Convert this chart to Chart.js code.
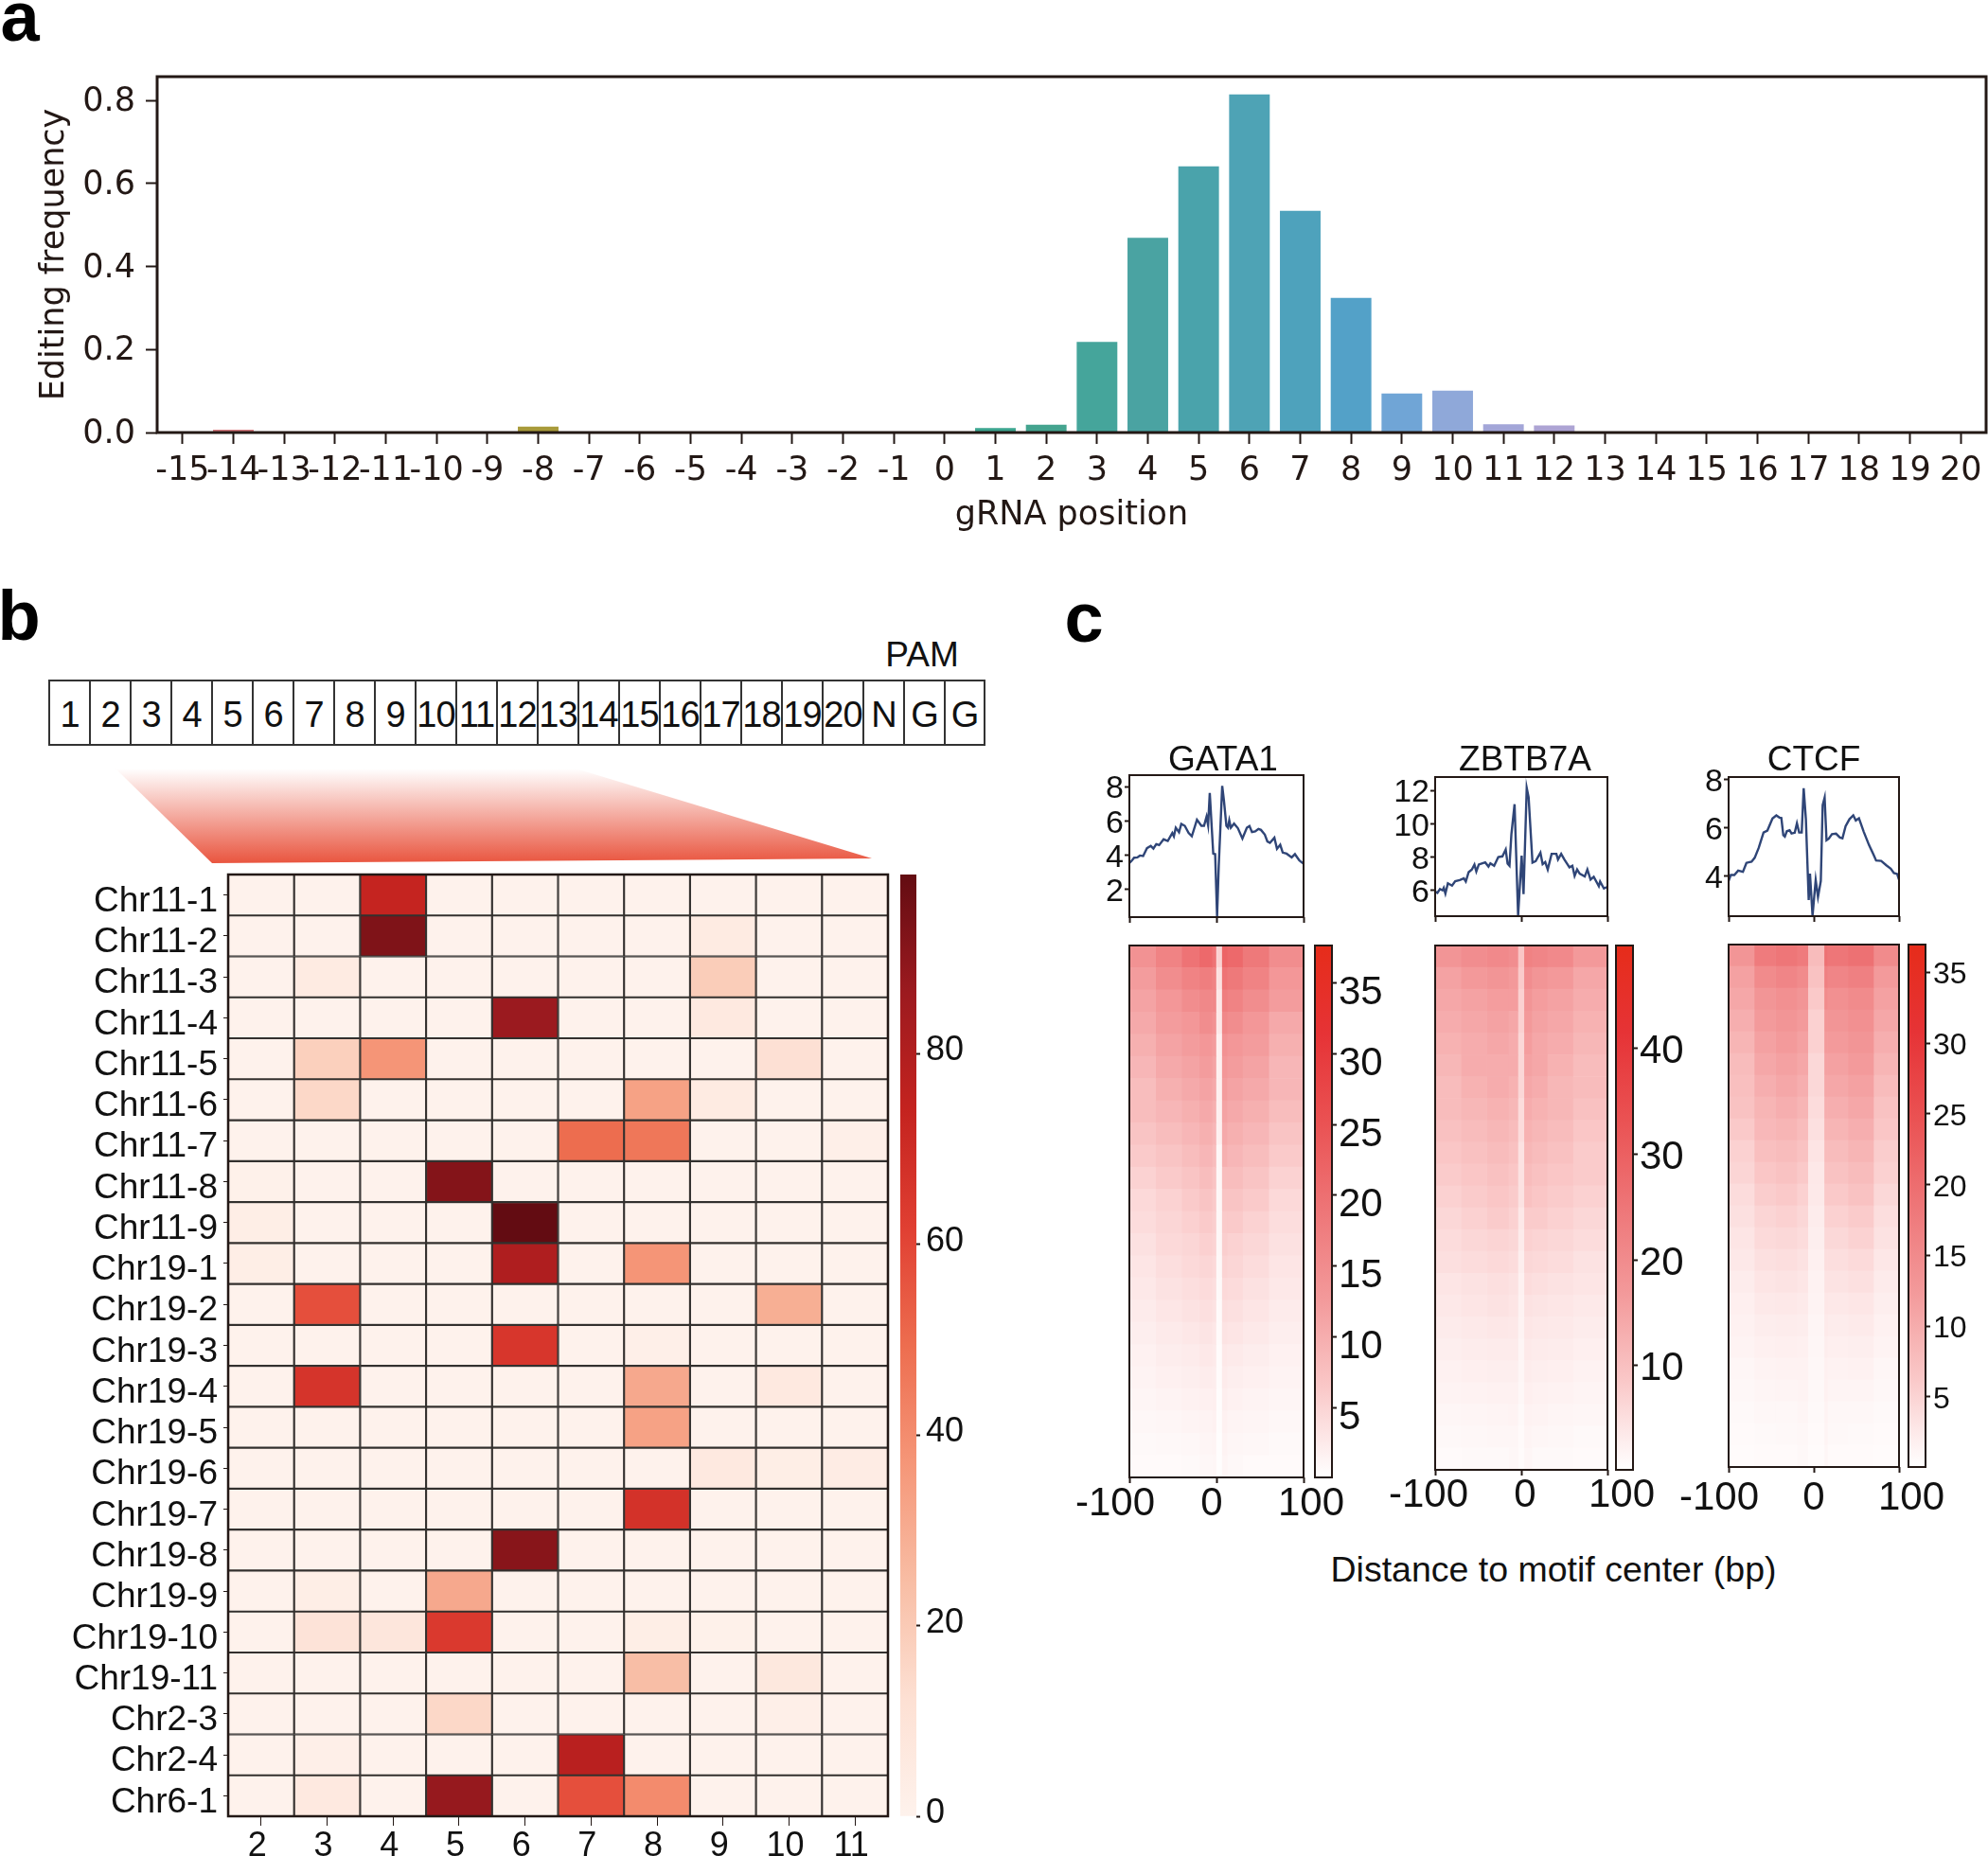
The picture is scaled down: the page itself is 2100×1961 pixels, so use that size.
<!DOCTYPE html>
<html>
<head>
<meta charset="utf-8">
<title>Editing frequency and motif profiles</title>
<script src="https://cdn.jsdelivr.net/npm/chart.js@4"></script>
<style>
body { margin: 0; background: #fff; }
#page { position: relative; width: 2100px; height: 1961px; overflow: hidden; }
#page canvas { position: absolute; }
.txt { position: absolute; transform: translate(-50%, -50%); font-family: "Liberation Sans"; color: #111; white-space: nowrap; line-height: 1; }
.letter { font-weight: bold; font-size: 74px; color: #000; }
#seq { position: absolute; left: 51px; top: 718px; display: flex; height: 70px; }
#seq div { box-sizing: border-box; width: 43px; height: 70px; margin-right: 0; border: 1px solid #333; border-width: 2px 1px; font: 38px/70px "Liberation Sans"; color: #111; text-align: center; letter-spacing: -1px; }
#seq div:first-child { width: 44px; border-left-width: 2px; }
#seq div:last-child { border-right-width: 2px; }
#fan { position: absolute; left: 122px; top: 812px; width: 799px; height: 100px;
  background: linear-gradient(#ffffff, #e9553f);
  clip-path: polygon(0 0, 486px 0, 799px 95px, 102px 100px); }
</style>
</head>
<body>
<div id="page">
  <div id="seq"></div>
  <div id="fan"></div>
</div>
<script>
// panel a
var positions = ['-15','-14','-13','-12','-11','-10','-9','-8','-7','-6','-5','-4','-3','-2','-1','0','1','2','3','4','5','6','7','8','9','10','11','12','13','14','15','16','17','18','19','20'];
var editFreq = [0,0.007,0,0,0,0,0,0.014,0,0,0,0,0,0,0,0,0.011,0.019,0.218,0.469,0.641,0.814,0.534,0.324,0.094,0.101,0.02,0.017,0,0,0,0,0,0,0,0];
var barColors = ['#d9787f','#d77a7f','#d27f66','#cc8550','#c48a45','#bc8f3f','#b49340','#a89a3a','#9c9e3c','#8fa13e','#7fa540','#6da842','#58aa50','#48aa66','#42a978','#3ea882','#3ca58f','#44a48f','#45a59b','#4aa3a2','#4aa3ab','#4ea3b5','#4ea2bc','#53a1c8','#70a5d6','#8fa8d9','#a3a6d8','#ada4d4','#b8a2d0','#c29fcc','#cb9cc8','#d29ac2','#d797ba','#db90a8','#dc8a98','#db828c'];
var freqTicks = [0,0.2,0.4,0.6,0.8];

// panel b
var seqLabels = ['1','2','3','4','5','6','7','8','9','10','11','12','13','14','15','16','17','18','19','20','N','G','G'];
var siteLabels = ['Chr11-1','Chr11-2','Chr11-3','Chr11-4','Chr11-5','Chr11-6','Chr11-7','Chr11-8','Chr11-9','Chr19-1','Chr19-2','Chr19-3','Chr19-4','Chr19-5','Chr19-6','Chr19-7','Chr19-8','Chr19-9','Chr19-10','Chr19-11','Chr2-3','Chr2-4','Chr6-1'];
var baseCols = [2,3,4,5,6,7,8,9,10,11];
var siteValues = [
  [0,0,73,0,0,0,0,0,0,0],
  [0,0,92,0,0,0,0,5,0,0],
  [0,5,0,0,0,0,0,19,0,0],
  [0,0,0,0,86,0,0,6,0,0],
  [0,18,37,0,0,0,0,0,12,0],
  [0,15,0,0,0,0,33,5,0,0],
  [0,0,0,0,0,49,46,0,0,2],
  [1,0,0,91,0,0,0,0,0,0],
  [3,0,0,0,98,0,0,0,0,0],
  [3,0,0,0,80,0,37,0,0,0],
  [0,57,0,0,0,0,0,0,29,0],
  [0,0,0,0,65,0,2,0,0,0],
  [0,66,0,0,0,0,31,0,6,0],
  [0,0,0,0,0,0,33,0,0,0],
  [0,0,0,0,0,0,0,6,3,4],
  [0,0,0,0,0,0,67,0,0,0],
  [0,0,0,0,90,0,0,0,0,0],
  [0,3,0,31,0,0,0,0,0,0],
  [0,10,8,64,0,0,3,1,0,0],
  [0,0,0,0,0,0,24,0,7,0],
  [0,0,0,15,0,0,0,0,2,0],
  [0,2,0,0,0,77,0,0,0,0],
  [0,6,0,87,0,57,40,0,0,0]
];
var siteBarTicks = [0,20,40,60,80];
var redsStops = ['#fef2ec','#fde0d3','#f8bda4','#f59678','#ed6d4f','#e03f32','#c4231f','#9c1a1f','#630c12'];

// panel c profiles
var gataX = [-100,-97.4,-94.5,-90.8,-87.9,-84.2,-79.8,-75.4,-72.4,-69.1,-65.8,-60.7,-55.9,-50.7,-48.9,-46.7,-43,-40.4,-36.4,-32,-28.3,-22.4,-17.3,-14.3,-11.4,-9.6,-7.7,-3.7,-1.5,0.7,2.6,6.6,8.5,11.4,13.2,14.7,16.5,20.2,24.6,29.8,34.9,37.9,40.8,44.5,48.2,51.1,55.5,58.5,61.4,66.5,69.5,73.2,76.1,80.5,86.4,90.1,95.2,100];
var gataY = [3.52,3.65,3.83,3.85,3.96,3.93,4.39,4.52,4.37,4.63,4.57,4.91,4.81,5.28,5.09,5.59,5.33,5.81,5.7,5.28,5.09,6.06,5.7,5.7,6.24,5.74,7.63,4.07,4.04,0.41,3.33,8.04,7.22,5.7,5.59,6.02,5.59,5.83,5.56,4.96,5.59,5.69,5.33,5.37,5.52,5.46,5.19,4.78,4.7,5,4.35,4.59,4.13,4.07,3.85,4.04,3.67,3.48];
var zbtbX = [-100,-97.4,-94.4,-91.5,-90,-88.1,-85.2,-80.4,-76.7,-71.5,-66.7,-64.4,-61.1,-57.4,-54.4,-52.2,-49.3,-41.9,-38.1,-35.9,-31.5,-26.7,-21.9,-18.1,-15.9,-13.7,-11.5,-7.8,-3.7,0.4,2.6,6.3,8.5,13,16.7,22.2,24.8,27.8,30.7,35.2,40.7,42.6,46.3,50,55.9,59.3,61.9,64.8,67.8,73.7,76.7,80.4,84.1,90,91.5,95.9,100];
var zbtbY = [5.92,5.85,6.08,6,6.15,5.81,6.42,6.28,6.55,6.62,6.72,6.53,7.09,7.25,7.55,7.13,7.55,7.68,7.43,7.62,7.47,8,8.04,8.45,7.6,7.47,9.36,11.17,4.49,8.08,5.77,12.15,11.58,7.66,7.75,8.26,7.57,7.7,7.25,8.19,8.19,7.85,8.19,7.85,7.38,7.47,6.87,7.25,7,6.83,7.25,6.64,6.81,6.25,6.53,6.11,6.21];
var ctcfX = [-100,-97.4,-93.3,-88.8,-83.2,-79.1,-73.1,-69.4,-64.6,-59,-54.5,-48.5,-44,-40.3,-38.1,-35.8,-34,-31.7,-28.4,-26.1,-22.4,-19.8,-17.2,-14.2,-11.9,-9.3,-6,-4.5,-1.5,2.2,4.9,8.2,10.4,12.7,14.9,17.5,21.3,26.1,30.6,33.6,37.3,41.8,46.3,49.3,53,58.6,64.9,70.1,73.1,79.1,85.1,90.3,94,97.8,100];
var ctcfY = [3.78,4.03,4.03,4.21,4.16,4.53,4.58,4.74,5.16,5.79,5.87,6.37,6.5,6.41,6.39,5.68,5.62,5.84,5.88,5.75,5.78,6.17,5.79,5.79,7.63,6.34,2.99,4.08,2.34,3.82,3.12,3.78,6.93,7.24,5.47,5.53,5.72,5.74,5.58,5.55,6.05,6.34,6.5,6.29,6.38,5.82,5.26,4.87,4.63,4.61,4.43,4.29,4.11,4.07,3.84];

// panel c heatmaps: rows top to bottom, columns between the bin edges
var gataEdges = [-100,-70,-40,-20,-5,0,6,12,30,60,100];
var gataRows = [
  [16,19,22,24,22,6,25,24,21,17],
  [14,17,19,20,19,4,22,21,19,15],
  [13,15,17,18,18,3,20,19,17,14],
  [12,14,15,17,16,3,18,17,15,12],
  [11,13,14,15,14,2,16,15,14,11],
  [10,12,13,14,13,2,15,14,13,10],
  [9,11,12,13,12,2,14,13,12,10],
  [9,10,11,12,11,2,13,12,11,9],
  [8,9,10,11,10,2,12,11,10,8],
  [7,8,9,10,9,1,11,10,9,7],
  [6,7,8,9,8,1,9,9,8,6],
  [5,6,7,8,7,1,8,8,7,5],
  [4.6,5.5,6.3,7,6.5,1,7,7,6,4.5],
  [4,5,5.5,6.2,5.8,1,6.5,6,5.3,4],
  [3.5,4.4,5,5.5,5,0.9,5.8,5.4,4.7,3.5],
  [3,3.8,4.4,4.8,4.4,0.8,5,4.8,4,3.1],
  [2.7,3.3,3.8,4.2,3.8,0.7,4.4,4.1,3.4,2.7],
  [2.3,2.8,3.2,3.6,3.2,0.6,3.7,3.4,2.9,2.3],
  [1.9,2.4,2.7,3,2.8,0.5,3.1,2.8,2.4,1.9],
  [1.6,2,2.2,2.5,2.4,0.5,2.6,2.3,2,1.6],
  [1.3,1.6,1.8,2,2.1,0.4,2.2,1.9,1.6,1.3],
  [1,1.2,1.4,1.6,1.8,0.4,1.9,1.5,1.3,1],
  [0.8,0.9,1.1,1.3,1.5,0.3,1.6,1.2,1,0.8],
  [0.6,0.7,0.8,1,1.2,0.3,1.3,0.9,0.7,0.6]
];
var zbtbEdges = [-100,-70,-40,-15,-4,3,12,30,60,100];
var zbtbRows = [
  [20,22,23,22,10,25,24,23,19],
  [17,19,20,19,9,22,20,19,16],
  [16,17,18,18,8,20,18,17,15],
  [15,16,17,16,8,19,17,16,14],
  [14,15,16,15,7,18,16,15,13],
  [13,15,15,15,7,17,16,14,12],
  [12,14,15,14,7,16,15,13,12],
  [12,13,14,13,6,15,14,13,11],
  [11,12,13,12,6,14,13,12,10],
  [10,11,12,11,5,13,12,11,9],
  [9,10,11,10,5,12,11,10,9],
  [8,9,10,9,5,11,10,9,8],
  [7,8,9,8,4,9,9,8,7],
  [6,7,7.5,7,3.5,8,7.5,7,6],
  [5.5,6,6.5,6,3,7,6.5,6,5],
  [4.5,5,5.5,5,2.5,6,5.5,5,4.5],
  [4,4.5,5,4.5,2.2,5,4.7,4.4,3.8],
  [3.5,3.8,4.2,4,2,4.4,4,3.8,3.2],
  [3,3.2,3.5,3.4,1.7,3.8,3.5,3.2,2.7],
  [2.5,2.7,3,3,1.5,3.2,3,2.7,2.3],
  [2,2.2,2.4,2.5,1.3,2.7,2.4,2.2,1.9],
  [1.6,1.8,1.9,2,1.1,2.3,2,1.8,1.5],
  [1.2,1.3,1.5,1.6,0.9,1.9,1.5,1.3,1.1],
  [0.9,1,1.1,1.3,0.7,1.5,1.1,1,0.8]
];
var ctcfEdges = [-100,-70,-45,-20,-7,12,16,40,70,100];
var ctcfRows = [
  [15,20,21,20,9,22,21,22,17],
  [13,17,18,17,8,19,18,19,14],
  [12,15,16,15,7,17,16,17,13],
  [11,14,15,14,6,15,15,16,12],
  [10,13,14,13,6,14,14,15,11],
  [9,12,13,12,5,13,13,14,10],
  [8.5,11,12,11,5,12,12,13,9],
  [8,10,11,10,4.5,11,11,12,8],
  [7,9.5,10,9,4,10,10,11,7.5],
  [6,8.5,9,8,3.5,9,9,10,6.5],
  [5.5,7.5,8,7,3,8,8,9,6],
  [4.5,6.5,7,6,2.8,7,7,8,5],
  [4,5.5,6,5.2,2.5,6,6,6.8,4.3],
  [3.4,4.8,5,4.5,2.2,5,5,5.8,3.7],
  [3,4,4.3,3.8,1.9,4.3,4.3,4.8,3.1],
  [2.5,3.4,3.6,3.2,1.7,3.6,3.6,4,2.6],
  [2.1,2.8,3,2.7,1.5,3.1,3,3.3,2.2],
  [1.8,2.3,2.5,2.3,1.3,2.7,2.5,2.7,1.8],
  [1.5,1.9,2.1,1.9,1.2,2.3,2.1,2.2,1.5],
  [1.2,1.6,1.7,1.7,1,2,1.7,1.8,1.2],
  [1,1.3,1.4,1.5,0.9,1.8,1.4,1.4,1],
  [0.8,1,1.1,1.3,0.8,1.6,1.1,1.1,0.8],
  [0.6,0.8,0.9,1.1,0.6,1.4,0.9,0.8,0.6],
  [0.5,0.6,0.7,0.9,0.5,1.2,0.7,0.6,0.5]
];
var densityStops = ['#ffffff','#fac9c9','#f39a9b','#ee7678','#ea5253','#e63336','#e62c1a'];

var dark = '#231815';
var page = document.getElementById('page');
var helv = 'Liberation Sans';

function hex2rgb(h) { return [parseInt(h.substr(1,2),16), parseInt(h.substr(3,2),16), parseInt(h.substr(5,2),16)]; }
function cmap(stops, t) {
  t = Math.max(0, Math.min(1, t)) * (stops.length - 1);
  var i = Math.min(Math.floor(t), stops.length - 2), f = t - i;
  var a = hex2rgb(stops[i]), b = hex2rgb(stops[i+1]);
  return 'rgb(' + [0,1,2].map(function(k) { return Math.round(a[k] + (b[k]-a[k])*f); }).join(',') + ')';
}

function text(str, x, y, size, cls) {
  var d = document.createElement('div');
  d.className = 'txt ' + (cls || '');
  d.textContent = str;
  d.style.left = x + 'px';
  d.style.top = y + 'px';
  if (size) d.style.fontSize = size + 'px';
  page.appendChild(d);
}

// canvas placed so the chart area lands on the given box
function canvasFor(left, top, w, h, m) {
  var c = document.createElement('canvas');
  c.width = w + m.l + m.r;
  c.height = h + m.t + m.b;
  c.style.left = (left - m.l) + 'px';
  c.style.top = (top - m.t) + 'px';
  page.appendChild(c);
  return c;
}
// fixes an axis band to a set size and drops the room Chart.js keeps for overhanging labels
function fitW(w) { return function(s) { s.width = w; s.paddingTop = 0; s.paddingBottom = 0; }; }
function fitH(h) { return function(s) { s.height = h; s.paddingLeft = 0; s.paddingRight = 0; }; }

var framePlugin = {
  id: 'frame',
  afterDraw: function(chart, args, o) {
    if (!o.width) return;
    var a = chart.chartArea, ctx = chart.ctx;
    ctx.save();
    ctx.strokeStyle = dark;
    ctx.lineWidth = o.width;
    ctx.strokeRect(a.left, a.top, a.right - a.left, a.bottom - a.top);
    ctx.restore();
  }
};
// x labels sitting off their ticks, as in the density panels
var shiftPlugin = {
  id: 'shifted',
  afterDraw: function(chart, args, o) {
    if (!o.values) return;
    var ctx = chart.ctx, s = chart.scales.x;
    ctx.save();
    ctx.fillStyle = '#111';
    ctx.font = o.size + 'px "' + helv + '"';
    ctx.textAlign = 'center';
    ctx.textBaseline = 'middle';
    o.values.forEach(function(v, i) {
      ctx.fillText(String(v), s.getPixelForValue(v) + o.dx[i], chart.chartArea.bottom + o.dy);
    });
    ctx.restore();
  }
};
Chart.register(framePlugin, shiftPlugin);
Chart.defaults.animation = false;
Chart.defaults.responsive = false;
Chart.defaults.devicePixelRatio = 1;
Chart.defaults.plugins.legend.display = false;
Chart.defaults.plugins.tooltip.enabled = false;

function tickList(list) { return function(s) { s.ticks = list.map(function(v) { return {value: v}; }); }; }

// panel a
new Chart(canvasFor(166, 81, 1932, 376, {l:166, r:2, t:5, b:110}), {
  type: 'bar',
  data: { labels: positions, datasets: [{ data: editFreq, backgroundColor: barColors, barPercentage: 0.8, categoryPercentage: 1 }] },
  options: {
    layout: { padding: { top: 5, right: 2 } },
    plugins: { frame: { width: 3 } },
    scales: {
      x: {
        afterFit: fitH(110),
        grid: { drawOnChartArea: false, offset: false, tickLength: 12, tickColor: dark, tickWidth: 2 },
        border: { display: false },
        ticks: { autoSkip: false, maxRotation: 0, padding: 8, color: dark, font: { family: 'DejaVu Sans', size: 35 } },
        title: { display: true, text: 'gRNA position', color: dark, font: { family: 'DejaVu Sans', size: 35 }, padding: { top: 0, bottom: 1 } }
      },
      y: {
        min: 0, max: 0.857,
        afterFit: fitW(166),
        afterBuildTicks: tickList(freqTicks),
        grid: { drawOnChartArea: false, tickLength: 12, tickColor: dark, tickWidth: 2 },
        border: { display: false },
        ticks: { autoSkip: false, padding: 11, labelOffset: 2, color: dark, font: { family: 'DejaVu Sans', size: 35 }, callback: function(v) { return v.toFixed(1); } },
        title: { display: true, text: 'Editing frequency', color: dark, font: { family: 'DejaVu Sans', size: 35 }, padding: { top: 37, bottom: 0 } }
      }
    }
  }
});

// panel b sequence strip
var seq = document.getElementById('seq');
seqLabels.forEach(function(s) {
  var d = document.createElement('div');
  d.textContent = s;
  seq.appendChild(d);
});
text('PAM', 974, 691, 37);

// panel b heat map: one floating-bar dataset per base column
function siteDatasets() {
  return baseCols.map(function(c, j) {
    return {
      data: siteValues.map(function() { return [c - 0.5, c + 0.5]; }),
      backgroundColor: siteValues.map(function(r) { return cmap(redsStops, r[j] / 98); }),
      borderColor: '#33302e', borderWidth: 1.4, borderSkipped: false,
      grouped: false, barPercentage: 1, categoryPercentage: 1
    };
  });
}
new Chart(canvasFor(241, 924, 697, 995, {l:241, r:5, t:5, b:42}), {
  type: 'bar',
  data: { labels: siteLabels, datasets: siteDatasets() },
  options: {
    indexAxis: 'y',
    layout: { padding: { top: 5, right: 5 } },
    plugins: { frame: { width: 2.5 } },
    scales: {
      x: {
        min: 1.5, max: 11.5,
        afterFit: fitH(42),
        afterBuildTicks: tickList(baseCols),
        grid: { drawOnChartArea: false, tickLength: 10, tickColor: dark, tickWidth: 1 },
        border: { display: false },
        ticks: { padding: 0, labelOffset: -4, color: '#111', font: { family: helv, size: 36 } }
      },
      y: {
        afterFit: fitW(241),
        grid: { drawOnChartArea: false, offset: false, tickLength: 5, tickColor: dark, tickWidth: 1 },
        border: { display: false },
        ticks: { autoSkip: false, padding: 6, labelOffset: 7, color: '#111', font: { family: helv, size: 37 } }
      }
    }
  }
});

// colour bar: a single bar spanning the scale, filled with the colour map
function colorBar(box, min, max, list, stops, font, framed, labelOffset, padding) {
  new Chart(canvasFor(box[0], box[1], box[2], box[3], {l:2, r:70, t:5, b:30}), {
    type: 'bar',
    data: { labels: [''], datasets: [{
      data: [[min, max]], barPercentage: 1, categoryPercentage: 1, borderSkipped: false,
      backgroundColor: function(ctx) {
        var a = ctx.chart.chartArea;
        if (!a) return stops[0];
        var g = ctx.chart.ctx.createLinearGradient(0, a.bottom, 0, a.top);
        stops.forEach(function(s, i) { g.addColorStop(i / (stops.length - 1), s); });
        return g;
      }
    }] },
    options: {
      layout: { padding: { top: 5, bottom: 30, left: 2 } },
      plugins: { frame: { width: framed } },
      scales: {
        x: { display: false },
        y: {
          position: 'right', min: min, max: max,
          afterFit: fitW(70),
          afterBuildTicks: tickList(list),
          grid: { drawOnChartArea: false, tickLength: framed ? 5 : 4, tickColor: dark, tickWidth: 2 },
          border: { display: false },
          ticks: { autoSkip: false, padding: padding, labelOffset: labelOffset, color: '#111', font: { family: helv, size: font } }
        }
      }
    }
  });
}
colorBar([951, 924, 17, 995], 0, 98.8, siteBarTicks, redsStops, 36, 0, -3, 6);

// profile line above each density panel
function profile(box, xs, ys, min, max, list) {
  new Chart(canvasFor(box[0], box[1], box[2], box[3], {l:50, r:4, t:20, b:10}), {
    type: 'scatter',
    data: { datasets: [{
      data: xs.map(function(x, i) { return {x: x, y: ys[i]}; }),
      showLine: true, pointRadius: 0, borderColor: '#2f4577', borderWidth: 2.4, tension: 0
    }] },
    options: {
      layout: { padding: { top: 20, right: 4 } },
      plugins: { frame: { width: 2 } },
      scales: {
        x: {
          min: -100, max: 100,
          afterFit: fitH(10),
          afterBuildTicks: tickList([-100, 0, 100]),
          grid: { drawOnChartArea: false, tickLength: 6, tickColor: dark, tickWidth: 2 },
          border: { display: false },
          ticks: { display: false }
        },
        y: {
          min: min, max: max,
          afterFit: fitW(50),
          afterBuildTicks: tickList(list),
          grid: { drawOnChartArea: false, tickLength: 5, tickColor: dark, tickWidth: 2 },
          border: { display: false },
          ticks: { autoSkip: false, padding: 1, labelOffset: 3, color: '#111', font: { family: helv, size: 34 } }
        }
      }
    }
  });
}
profile([1193, 819, 184, 150], gataX, gataY, 0.35, 8.67, [2,4,6,8]);
profile([1516, 821, 182, 147], zbtbX, zbtbY, 4.45, 12.8, [6,8,10,12]);
profile([1826, 821, 180, 147], ctcfX, ctcfY, 2.32, 8.09, [4,6,8]);
text('GATA1', 1292, 801, 37);
text('ZBTB7A', 1611, 801, 37);
text('CTCF', 1916, 801, 37);

// density heat map: one floating-bar dataset per bin column
function density(box, edges, rows, vmax, dx, dy) {
  var labels = rows.map(function(r, i) { return i + 1; });
  var sets = rows[0].map(function(v, j) {
    return {
      data: rows.map(function() { return [edges[j], edges[j+1]]; }),
      backgroundColor: rows.map(function(r) { return cmap(densityStops, r[j] / vmax); }),
      borderWidth: 0, grouped: false, barPercentage: 1, categoryPercentage: 1
    };
  });
  new Chart(canvasFor(box[0], box[1], box[2], box[3], {l:60, r:60, t:4, b:60}), {
    type: 'bar',
    data: { labels: labels, datasets: sets },
    options: {
      indexAxis: 'y',
      layout: { padding: { top: 4, right: 60 } },
      plugins: { frame: { width: 2 }, shifted: { values: [-100, 0, 100], dx: dx, dy: dy, size: 42 } },
      scales: {
        x: {
          min: -100, max: 100,
          afterFit: fitH(60),
          afterBuildTicks: tickList([-100, 0, 100]),
          grid: { drawOnChartArea: false, tickLength: 6, tickColor: dark, tickWidth: 2 },
          border: { display: false },
          ticks: { display: false }
        },
        y: {
          afterFit: fitW(60),
          grid: { display: false },
          border: { display: false },
          ticks: { display: false }
        }
      }
    }
  });
}
density([1193, 999, 184, 562], gataEdges, gataRows, 43, [-15, -5, 8], 28);
density([1516, 999, 182, 554], zbtbEdges, zbtbRows, 56, [-7, 4, 15], 27);
density([1826, 998, 180, 552], ctcfEdges, ctcfRows, 42, [-10, 0, 13], 33);

colorBar([1389, 999, 18, 562], 0.05, 37.66, [5,10,15,20,25,30,35], densityStops, 42, 2, 11, 2);
colorBar([1707, 999, 18, 554], 0.15, 49.7, [10,20,30,40], densityStops, 42, 2, 4, 2);
colorBar([2016, 998, 18, 552], 0.05, 36.97, [5,10,15,20,25,30,35], densityStops, 32, 2, 3, 3);

text('Distance to motif center (bp)', 1641, 1659, 37.5);

text('a', 21, 18, 74, 'letter');
text('b', 20, 651, 74, 'letter');
text('c', 1145, 653, 74, 'letter');
</script>
</body>
</html>
